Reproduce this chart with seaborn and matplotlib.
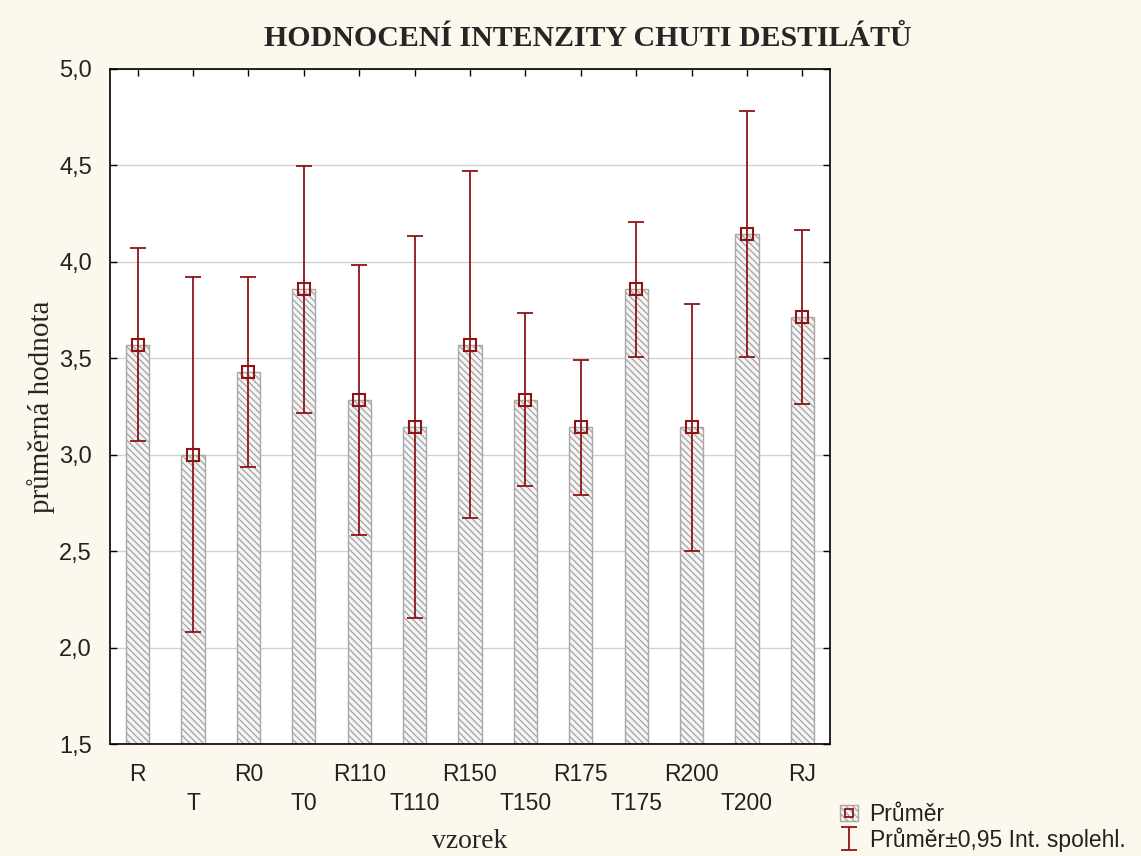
import matplotlib
matplotlib.use("Agg")
import matplotlib.pyplot as plt
import seaborn as sns
import numpy as np
import pandas as pd
from matplotlib.patches import Patch
from matplotlib.lines import Line2D

categories = ["R", "T", "R0", "T0", "R110", "T110", "R150", "T150",
              "R175", "T175", "R200", "T200", "RJ"]
means = [3.571, 3.000, 3.429, 3.857, 3.286, 3.143, 3.571, 3.286,
         3.143, 3.857, 3.143, 4.143, 3.714]
lower = [3.071, 2.080, 2.937, 3.217, 2.586, 2.153, 2.671, 2.836,
         2.793, 3.507, 2.503, 3.506, 3.264]
upper = [4.071, 3.920, 3.921, 4.497, 3.986, 4.133, 4.471, 3.736,
         3.493, 4.207, 3.783, 4.780, 4.164]
yticks = [1.5, 2.0, 2.5, 3.0, 3.5, 4.0, 4.5, 5.0]
ytick_labels = ["1,5", "2,0", "2,5", "3,0", "3,5", "4,0", "4,5", "5,0"]

df = pd.DataFrame({"vzorek": categories, "mean": means})

sns.set_theme(style="white")
plt.rcParams["font.family"] = ["Liberation Sans", "DejaVu Sans"]
plt.rcParams["hatch.color"] = "#b8b8b8"
plt.rcParams["hatch.linewidth"] = 1.0

BG = "#fdf8ee"
RED = "#8e1515"

fig = plt.figure(figsize=(11.41, 8.56), dpi=100, facecolor=BG)
ax = fig.add_axes([110/1141, 1-744/856, 720/1141, 675/856])
ax.set_facecolor("white")

sns.barplot(data=df, x="vzorek", y="mean", ax=ax, width=0.42,
            color="white", edgecolor="#a8a8a8", linewidth=1.0,
            errorbar=None, zorder=2)
for p in ax.patches:
    p.set_hatch("\\\\\\\\\\")
    p.set_facecolor("#f6f6f6")

x = np.arange(len(categories))
m = np.array(means)
err = [m - np.array(lower), np.array(upper) - m]
eb = ax.errorbar(x, m, yerr=err, fmt="none", ecolor=RED, elinewidth=1.3,
                 capsize=6, capthick=1.3, zorder=3)
ax.plot(x, m, "s", ms=8, mfc="none", mec=RED, mew=1.5, zorder=4)

ax.set_ylim(1.5, 5.0)
ax.set_xlim(-0.5, len(categories) - 0.5)
ax.set_yticks(yticks)
ax.set_yticklabels(ytick_labels, fontsize=17)
ax.set_xticks(x)
ax.set_xticklabels([c if i % 2 == 0 else "\n" + c for i, c in enumerate(categories)],
                   fontsize=16.5, linespacing=1.3)
ax.grid(axis="y", color="#d2d2d2", linewidth=1.0, zorder=0)
ax.set_axisbelow(True)
ax.tick_params(axis="both", direction="in", length=5, width=1, color="black",
               top=True, right=True, bottom=True, left=True,
               labelcolor="#222222")
ax.tick_params(axis="x", pad=14)
ax.tick_params(axis="y", pad=13)
for s in ax.spines.values():
    s.set_color("black")
    s.set_linewidth(1.2)

ax.set_xlabel("vzorek", fontsize=20, family=["Liberation Serif"], labelpad=10)
ax.set_ylabel("průměrná hodnota", fontsize=21, family=["Liberation Serif"], labelpad=3)
fig.text(0.515, 1-38/856, "HODNOCENÍ INTENZITY CHUTI DESTILÁTŮ", ha="center", va="center",
         fontsize=21.5, fontweight="bold", family=["Liberation Serif"])

h1 = (Patch(facecolor="#f6f6f6", edgecolor="#a8a8a8", hatch="\\\\\\\\\\"),
      Line2D([], [], marker="s", ls="none", ms=6, mfc="none", mec=RED, mew=1.3))
leg = fig.legend([h1, eb], ["Průměr", "Průměr±0,95 Int. spolehl."],
                 loc="lower left", bbox_to_anchor=(826/1141, -0.011),
                 frameon=False, fontsize=16.5, handlelength=0.8, handletextpad=0.5,
                 labelspacing=0.05, borderpad=0.1)
for t in leg.get_texts():
    t.set_color("#222222")

fig.savefig("out.png", dpi=100, facecolor=BG)
